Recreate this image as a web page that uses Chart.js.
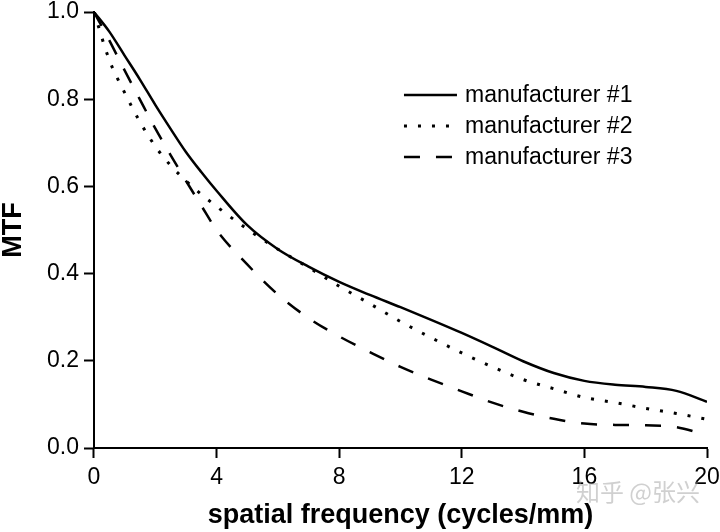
<!DOCTYPE html>
<html lang="en">
<head>
    <meta charset="UTF-8">
    <title>MTF Chart</title>
    <script src="https://cdn.jsdelivr.net/npm/chart.js"></script>
    <style>
        html, body { margin: 0; padding: 0; background: #fff; }
        #wrap { width: 720px; height: 532px; }
    </style>
</head>
<body>
    <div id="wrap"><canvas id="mtfChart" width="720" height="532"></canvas></div>

    <script>
        // spatial frequency (cycles/mm)
        const freq = [0, 0.5, 1, 1.5, 2, 2.5, 3, 3.5, 4, 5, 6, 7, 8, 9, 10, 11, 12, 13, 14, 15, 16, 17, 18, 19, 20];
        // MTF
        const mtf1 = [1.0, 0.955, 0.90, 0.845, 0.787, 0.732, 0.679, 0.633, 0.59, 0.511, 0.456, 0.416, 0.381, 0.351, 0.323, 0.294, 0.264, 0.232, 0.199, 0.172, 0.154, 0.145, 0.140, 0.131, 0.106];
        const mtf2 = [1.0, 0.89, 0.815, 0.748, 0.692, 0.648, 0.613, 0.582, 0.554, 0.502, 0.456, 0.414, 0.371, 0.331, 0.29, 0.253, 0.218, 0.186, 0.157, 0.136, 0.116, 0.104, 0.091, 0.079, 0.066];
        const mtf3 = [1.0, 0.935, 0.866, 0.799, 0.733, 0.672, 0.613, 0.556, 0.50, 0.421, 0.352, 0.298, 0.256, 0.220, 0.186, 0.157, 0.130, 0.104, 0.083, 0.067, 0.056, 0.053, 0.052, 0.048, 0.029];
        const seriesNames = ['manufacturer #1', 'manufacturer #2', 'manufacturer #3'];
        const xTicks = [0, 4, 8, 12, 16, 20];

        const FONT = '"Liberation Sans", Arial, sans-serif';

        const toPoints = ys => freq.map((f, i) => ({ x: f, y: ys[i] }));

        // legend drawn inside the plot, upper right
        const innerLegend = {
            id: 'innerLegend',
            afterDraw(chart) {
                const ctx = chart.ctx;
                const area = chart.chartArea;
                const x0 = area.left + 310;
                const y0 = area.top + 83;
                ctx.save();
                chart.data.datasets.forEach((ds, i) => {
                    const y = y0 + i * 31;
                    ctx.beginPath();
                    ctx.lineWidth = ds.borderWidth;
                    ctx.strokeStyle = ds.borderColor;
                    ctx.setLineDash(ds.borderDash || []);
                    ctx.moveTo(x0, y);
                    ctx.lineTo(x0 + 53, y);
                    ctx.stroke();
                    ctx.setLineDash([]);
                    ctx.fillStyle = '#000';
                    ctx.font = '23px ' + FONT;
                    ctx.textBaseline = 'middle';
                    ctx.fillText(ds.label, x0 + 61, y + 1);
                });
                // faint watermark
                ctx.font = '24px "Noto Sans CJK SC", sans-serif';
                ctx.fillStyle = 'rgba(150,150,150,0.45)';
                ctx.textAlign = 'right';
                ctx.fillText('知乎 @张兴', 700, 492);
                ctx.restore();
            }
        };

        const ctx = document.getElementById('mtfChart').getContext('2d');

        new Chart(ctx, {
            type: 'scatter',
            data: {
                datasets: [
                    {
                        label: seriesNames[0],
                        data: toPoints(mtf1),
                        borderColor: '#000',
                        borderWidth: 2.5,
                        showLine: true,
                        pointRadius: 0,
                        cubicInterpolationMode: 'monotone'
                    },
                    {
                        label: seriesNames[1],
                        data: toPoints(mtf2),
                        borderColor: '#000',
                        borderWidth: 3,
                        borderDash: [3, 11],
                        showLine: true,
                        pointRadius: 0,
                        cubicInterpolationMode: 'monotone'
                    },
                    {
                        label: seriesNames[2],
                        data: toPoints(mtf3),
                        borderColor: '#000',
                        borderWidth: 2.5,
                        borderDash: [16, 16],
                        showLine: true,
                        pointRadius: 0,
                        cubicInterpolationMode: 'monotone'
                    }
                ]
            },
            options: {
                responsive: false,
                animation: false,
                layout: { padding: { left: 0, right: 0, top: 0, bottom: 0 } },
                plugins: {
                    legend: { display: false },
                    tooltip: { enabled: false }
                },
                scales: {
                    x: {
                        type: 'linear',
                        min: 0,
                        max: 20,
                        afterBuildTicks: axis => { axis.ticks = xTicks.map(v => ({ value: v })); },
                        afterFit: axis => { axis.paddingRight = 13; },
                        grid: { drawOnChartArea: false, color: '#000', tickLength: 10, tickWidth: 2 },
                        border: { color: '#000', width: 2 },
                        ticks: { color: '#000', font: { family: FONT, size: 23 }, padding: 6, maxRotation: 0 },
                        title: {
                            display: true,
                            text: 'spatial frequency (cycles/mm)',
                            color: '#000',
                            font: { family: FONT, size: 27, weight: 'bold' },
                            padding: { top: 2, bottom: 0 }
                        }
                    },
                    y: {
                        min: 0,
                        max: 1,
                        afterFit: axis => { axis.paddingTop = 12; },
                        grid: { drawOnChartArea: false, color: '#000', tickLength: 10, tickWidth: 2 },
                        border: { color: '#000', width: 2 },
                        ticks: {
                            stepSize: 0.2,
                            color: '#000',
                            font: { family: FONT, size: 23, lineHeight: 1.0 },
                            padding: 5,
                            callback: v => v.toFixed(1)
                        },
                        title: {
                            display: true,
                            text: 'MTF',
                            color: '#000',
                            font: { family: FONT, size: 27, weight: 'bold', lineHeight: 1.0 },
                            padding: { top: 0, bottom: 15 }
                        }
                    }
                }
            },
            plugins: [innerLegend]
        });
    </script>
</body>
</html>
